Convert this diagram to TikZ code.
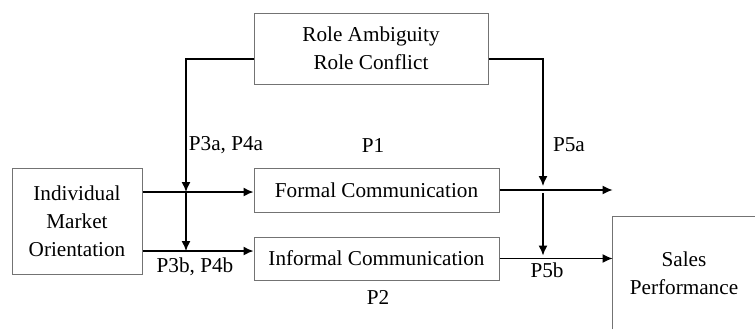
\documentclass[tikz,border=0pt]{standalone}
\usepackage{fontspec}
\setmainfont{Liberation Serif}
\usetikzlibrary{arrows.meta}

\tikzset{
    box/.style={draw=black!55, line width=0.5pt, align=center, inner sep=0pt},
    lbl/.style={inner sep=0pt},
    link/.style={line width=0.7pt, -{Latex[length=5pt,width=4.5pt]}}
}

\begin{document}
\begin{tikzpicture}[x=0.5pt, y=-0.5pt, font=\rmfamily\fontsize{10.6}{14}\selectfont]
    \useasboundingbox (0,0) rectangle (755,329);
    % boxes
    \node[box, minimum width=234*0.5pt, minimum height=71*0.5pt] (role) at (371,48.5) {Role Ambiguity\\Role Conflict};
    \node[box, minimum width=130*0.5pt, minimum height=106*0.5pt] (ind) at (77,221) {Individual\\Market\\Orientation};
    \node[box, minimum width=245*0.5pt, minimum height=44*0.5pt] (formal) at (376.5,190) {Formal Communication};
    \node[box, minimum width=245*0.5pt, minimum height=43*0.5pt] (informal) at (376.5,258.5) {Informal Communication};
    \node[align=center, inner sep=0pt, minimum width=142*0.5pt, minimum height=112*0.5pt] (sales) at (684,273) {Sales\\Performance};
    \draw[black!55, line width=0.5pt] (sales.south west) -- (sales.north west) -- (sales.north east);

    % junctions
    \coordinate (ml) at (186,59);
    \coordinate (mr) at (543,59);
    \coordinate (fr) at (0,192);
    \coordinate (ir) at (0,251);

    % main paths
    \draw[link] (ind.east |- fr) -- (formal.west |- fr);
    \draw[link] (ind.east |- ir) -- (informal.west |- ir);
    \draw[link] (formal.east) -- (formal.east -| sales.west);
    \draw[link] (informal.east) -- (informal.east -| sales.west);

    % moderators
    \draw[link] (role.west |- ml) -- (ml) -- (ml |- fr);
    \draw[link] (ml |- fr) -- (ml |- ir);
    \draw[link, shorten >=2pt] (role.east |- mr) -- (mr) -- (mr |- formal.east);
    \draw[link, shorten <=1.5pt, shorten >=1.5pt] (mr |- formal.east) -- (mr |- informal.east);

    % labels
    \node[lbl] (p3a) at (226,145) {P3a, P4a};
    \node[lbl] (p1) at (373,145) {P1};
    \node[lbl] (p5a) at (569,145) {P5a};
    \node[lbl] (p3b) at (195,267) {P3b, P4b};
    \node[lbl] (p2) at (378,297) {P2};
    \node[lbl] (p5b) at (547,270) {P5b};
\end{tikzpicture}
\end{document}
